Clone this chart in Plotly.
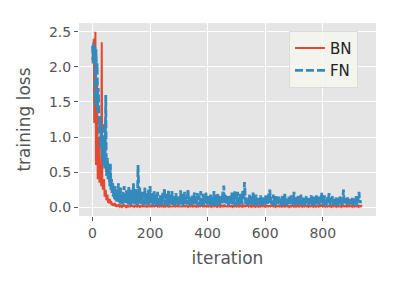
import plotly.graph_objects as go

# iteration index (every 2nd iteration)
iterations = list(range(0, 938, 2))

fn_loss = [
    2.30, 2.05, 2.34, 2.10, 2.28, 1.45, 2.25, 1.90, 2.05, 1.35, 1.70, 1.45, 1.05, 1.30, 0.85, 1.10, 1.00, 0.70, 0.95, 0.60, 1.20, 0.55, 0.80, 1.60, 0.45, 0.50, 0.70, 0.40, 0.55, 0.35,
    0.30, 0.62, 0.25, 0.40, 0.18, 0.35, 0.15, 0.28, 0.12, 0.30, 0.10, 0.22, 0.08, 0.25, 0.12, 0.34, 0.07, 0.20, 0.05, 0.28, 0.10, 0.18, 0.04, 0.22, 0.09, 0.30, 0.05, 0.16, 0.08, 0.24,
    0.06, 0.20, 0.04, 0.30, 0.10, 0.18, 0.03, 0.25, 0.08, 0.15, 0.05, 0.34, 0.09, 0.22, 0.04, 0.26, 0.07, 0.14, 0.03, 0.60, 0.12, 0.05, 0.28, 0.08, 0.18, 0.03, 0.13, 0.22, 0.05, 0.11,
    0.03, 0.28, 0.06, 0.15, 0.04, 0.19, 0.09, 0.25, 0.03, 0.12, 0.30, 0.05, 0.14, 0.08, 0.20, 0.03, 0.11, 0.24, 0.06, 0.13, 0.04, 0.18, 0.02, 0.22, 0.09, 0.05, 0.14, 0.03, 0.17, 0.07,
    0.16, 0.03, 0.21, 0.08, 0.12, 0.27, 0.04, 0.10, 0.19, 0.02, 0.14, 0.06, 0.25, 0.03, 0.11, 0.18, 0.05, 0.09, 0.23, 0.03, 0.13, 0.07, 0.16, 0.02, 0.12, 0.20, 0.04, 0.10, 0.06, 0.15,
    0.03, 0.14, 0.08, 0.24, 0.04, 0.11, 0.19, 0.02, 0.13, 0.07, 0.22, 0.03, 0.16, 0.09, 0.04, 0.18, 0.26, 0.05, 0.12, 0.03, 0.15, 0.08, 0.02, 0.17, 0.10, 0.04, 0.13, 0.21, 0.03, 0.09,
    0.14, 0.04, 0.20, 0.08, 0.02, 0.17, 0.10, 0.04, 0.23, 0.03, 0.12, 0.07, 0.19, 0.02, 0.15, 0.09, 0.04, 0.21, 0.06, 0.11, 0.03, 0.16, 0.08, 0.13, 0.02, 0.18, 0.05, 0.10, 0.14, 0.03,
    0.04, 0.23, 0.08, 0.14, 0.03, 0.18, 0.02, 0.12, 0.20, 0.05, 0.10, 0.03, 0.16, 0.07, 0.13, 0.04, 0.22, 0.09, 0.31, 0.15, 0.05, 0.19, 0.03, 0.11, 0.06, 0.16, 0.02, 0.13, 0.08, 0.18,
    0.03, 0.13, 0.21, 0.04, 0.09, 0.17, 0.05, 0.24, 0.02, 0.12, 0.18, 0.04, 0.22, 0.08, 0.15, 0.03, 0.11, 0.19, 0.06, 0.14, 0.04, 0.25, 0.10, 0.16, 0.36, 0.12, 0.04, 0.14, 0.07, 0.10,
    0.03, 0.11, 0.07, 0.19, 0.02, 0.13, 0.08, 0.16, 0.04, 0.21, 0.03, 0.10, 0.14, 0.05, 0.18, 0.02, 0.12, 0.08, 0.15, 0.04, 0.11, 0.06, 0.17, 0.03, 0.13, 0.09, 0.02, 0.14, 0.07, 0.12,
    0.04, 0.17, 0.07, 0.13, 0.03, 0.11, 0.20, 0.05, 0.25, 0.09, 0.15, 0.04, 0.12, 0.03, 0.18, 0.08, 0.14, 0.02, 0.10, 0.16, 0.05, 0.12, 0.03, 0.09, 0.15, 0.06, 0.11, 0.02, 0.13, 0.07,
    0.16, 0.03, 0.12, 0.07, 0.19, 0.04, 0.10, 0.14, 0.02, 0.11, 0.06, 0.15, 0.03, 0.12, 0.08, 0.17, 0.04, 0.09, 0.13, 0.03, 0.22, 0.10, 0.05, 0.14, 0.02, 0.11, 0.07, 0.16, 0.04, 0.09,
    0.13, 0.03, 0.18, 0.06, 0.11, 0.02, 0.15, 0.08, 0.13, 0.03, 0.10, 0.16, 0.04, 0.12, 0.07, 0.02, 0.14, 0.09, 0.05, 0.11, 0.17, 0.03, 0.12, 0.06, 0.15, 0.02, 0.10, 0.13, 0.04, 0.17,
    0.04, 0.12, 0.08, 0.15, 0.03, 0.10, 0.06, 0.14, 0.21, 0.09, 0.13, 0.03, 0.11, 0.17, 0.05, 0.12, 0.02, 0.09, 0.14, 0.06, 0.11, 0.20, 0.07, 0.03, 0.14, 0.05, 0.09, 0.16, 0.03, 0.12,
    0.06, 0.11, 0.03, 0.14, 0.08, 0.10, 0.02, 0.13, 0.06, 0.12, 0.17, 0.04, 0.09, 0.14, 0.03, 0.11, 0.25, 0.09, 0.05, 0.13, 0.03, 0.11, 0.07, 0.14, 0.02, 0.10, 0.06, 0.12, 0.04, 0.09,
    0.05, 0.10, 0.14, 0.03, 0.09, 0.07, 0.12, 0.04, 0.16, 0.02, 0.11, 0.08, 0.13, 0.22, 0.06, 0.10, 0.04, 0.03, 0.02,
]

bn_loss = [
    2.10, 2.30, 2.40, 1.20, 2.20, 2.50, 0.60, 1.40, 1.80, 0.40, 0.70, 1.00, 0.35, 0.50, 0.60, 0.30, 2.35, 0.40, 0.25, 0.35, 0.40, 0.15, 0.20, 0.25, 0.10, 0.12, 0.18, 0.06, 0.08, 0.10,
    0.12, 0.05, 0.09, 0.03, 0.07, 0.02, 0.05, 0.04, 0.02, 0.06, 0.01, 0.03, 0.02, 0.04, 0.01, 0.03, 0.02, 0.01, 0.03, 0.02, 0.01, 0.03, 0.01, 0.02, 0.04, 0.01, 0.02, 0.01, 0.03, 0.01,
    0.02, 0.01, 0.03, 0.01, 0.01, 0.02, 0.01, 0.04, 0.01, 0.02, 0.01, 0.01, 0.03, 0.01, 0.02, 0.01, 0.01, 0.02, 0.01, 0.02, 0.01, 0.01, 0.03, 0.01, 0.02, 0.01, 0.01, 0.02, 0.04, 0.01,
    0.01, 0.02, 0.01, 0.01, 0.03, 0.01, 0.02, 0.01, 0.01, 0.01, 0.02, 0.01, 0.01, 0.03, 0.01, 0.01, 0.02, 0.01, 0.01, 0.02, 0.01, 0.04, 0.01, 0.01, 0.02, 0.01, 0.01, 0.03, 0.01, 0.01,
    0.02, 0.01, 0.01, 0.02, 0.01, 0.03, 0.01, 0.01, 0.02, 0.01, 0.01, 0.01, 0.03, 0.01, 0.02, 0.01, 0.01, 0.02, 0.01, 0.02, 0.01, 0.01, 0.03, 0.01, 0.01, 0.02, 0.01, 0.01, 0.02, 0.04,
    0.01, 0.01, 0.02, 0.01, 0.01, 0.02, 0.01, 0.03, 0.01, 0.01, 0.02, 0.01, 0.01, 0.02, 0.01, 0.01, 0.03, 0.01, 0.02, 0.01, 0.01, 0.02, 0.01, 0.01, 0.03, 0.01, 0.01, 0.02, 0.01, 0.01,
    0.02, 0.01, 0.03, 0.01, 0.01, 0.02, 0.01, 0.01, 0.02, 0.01, 0.04, 0.01, 0.01, 0.02, 0.01, 0.01, 0.02, 0.01, 0.01, 0.03, 0.01, 0.01, 0.02, 0.01, 0.01, 0.02, 0.01, 0.03, 0.01, 0.01,
    0.02, 0.01, 0.01, 0.02, 0.01, 0.01, 0.03, 0.01, 0.02, 0.01, 0.01, 0.02, 0.01, 0.03, 0.01, 0.01, 0.02, 0.01, 0.01, 0.04, 0.01, 0.02, 0.01, 0.01, 0.02, 0.01, 0.01, 0.03, 0.01, 0.01,
    0.02, 0.01, 0.01, 0.03, 0.01, 0.02, 0.01, 0.01, 0.02, 0.01, 0.01, 0.03, 0.01, 0.01, 0.02, 0.01, 0.02, 0.01, 0.01, 0.02, 0.01, 0.03, 0.01, 0.01, 0.02, 0.01, 0.01, 0.02, 0.01, 0.04,
    0.01, 0.01, 0.02, 0.01, 0.01, 0.02, 0.01, 0.03, 0.01, 0.01, 0.02, 0.01, 0.01, 0.03, 0.01, 0.02, 0.01, 0.01, 0.02, 0.01, 0.03, 0.01, 0.01, 0.02, 0.01, 0.01, 0.02, 0.01, 0.01, 0.02,
    0.01, 0.03, 0.01, 0.01, 0.02, 0.01, 0.01, 0.02, 0.01, 0.01, 0.02, 0.01, 0.04, 0.01, 0.01, 0.02, 0.01, 0.01, 0.03, 0.01, 0.02, 0.01, 0.01, 0.02, 0.01, 0.01, 0.03, 0.01, 0.01, 0.02,
    0.01, 0.02, 0.01, 0.01, 0.03, 0.01, 0.01, 0.02, 0.01, 0.01, 0.02, 0.01, 0.03, 0.01, 0.02, 0.01, 0.01, 0.02, 0.01, 0.01, 0.04, 0.01, 0.01, 0.02, 0.01, 0.02, 0.01, 0.01, 0.03, 0.01,
    0.01, 0.02, 0.01, 0.01, 0.02, 0.01, 0.03, 0.01, 0.01, 0.02, 0.01, 0.01, 0.02, 0.01, 0.01, 0.03, 0.01, 0.02, 0.01, 0.01, 0.02, 0.01, 0.01, 0.02, 0.01, 0.03, 0.01, 0.01, 0.02, 0.01,
    0.02, 0.01, 0.01, 0.03, 0.01, 0.01, 0.02, 0.01, 0.04, 0.01, 0.01, 0.02, 0.01, 0.01, 0.02, 0.01, 0.03, 0.01, 0.01, 0.02, 0.01, 0.01, 0.02, 0.01, 0.01, 0.03, 0.01, 0.02, 0.01, 0.01,
    0.02, 0.01, 0.01, 0.02, 0.01, 0.03, 0.01, 0.01, 0.02, 0.01, 0.01, 0.02, 0.01, 0.03, 0.01, 0.01, 0.02, 0.01, 0.01, 0.02, 0.01, 0.01, 0.03, 0.01, 0.01, 0.02, 0.01, 0.01, 0.02, 0.01,
    0.01, 0.02, 0.01, 0.03, 0.01, 0.01, 0.02, 0.01, 0.01, 0.02, 0.01, 0.01, 0.03, 0.01, 0.02, 0.01, 0.01, 0.02, 0.01,
]

x_ticks = [0, 200, 400, 600, 800]
y_ticks = [0.0, 0.5, 1.0, 1.5, 2.0, 2.5]
y_tick_labels = ["0.0", "0.5", "1.0", "1.5", "2.0", "2.5"]

fig = go.Figure()
fig.add_trace(go.Scatter(x=iterations, y=bn_loss, mode="lines", name="BN",
                         line=dict(color="#E24A33", width=2)))
fig.add_trace(go.Scatter(x=iterations, y=fn_loss, mode="lines", name="FN",
                         line=dict(color="#348ABD", width=2.8, dash="8px,3px")))

font_family = "DejaVu Sans"
# the page body adds an 8px margin, so the figure is sized 8px smaller
fig.update_layout(
    width=391, height=277,
    margin=dict(l=71, r=23, t=15, b=69, autoexpand=False),
    paper_bgcolor="white",
    plot_bgcolor="#E5E5E5",
    font=dict(family=font_family, color="#555555", size=14),
    showlegend=True,
    legend=dict(x=0.707, y=0.96, xanchor="left", yanchor="top",
                bgcolor="rgba(247,247,240,0.85)", bordercolor="#DCDCD4", borderwidth=1,
                font=dict(family=font_family, size=15, color="#222222"),
                itemwidth=30),
)
fig.update_xaxes(range=[-47, 985], tickvals=x_ticks, ticks="outside", ticklen=4,
                 tickcolor="#555555", showgrid=True, gridcolor="white", gridwidth=1.2,
                 zeroline=False, showline=False, automargin=False,
                 title=dict(text="iteration", font=dict(size=17, color="#555555"), standoff=12),
                 tickfont=dict(size=14, color="#555555"))
fig.update_yaxes(range=[-0.125, 2.625], tickvals=y_ticks, ticktext=y_tick_labels,
                 ticks="outside", ticklen=4,
                 tickcolor="#555555", showgrid=True, gridcolor="white", gridwidth=1.2,
                 zeroline=False, showline=False, automargin=False,
                 title=dict(text="training loss", font=dict(size=17, color="#555555"), standoff=13),
                 tickfont=dict(size=14, color="#555555"))

fig.write_html("out.html")
